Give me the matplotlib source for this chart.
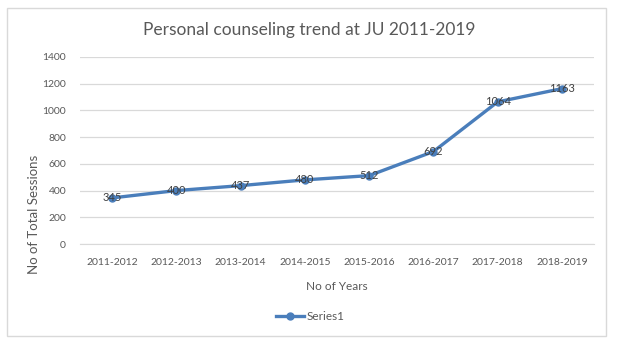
import matplotlib
matplotlib.use("Agg")
import matplotlib.pyplot as plt
from matplotlib.patches import Rectangle

years = ["2011-2012", "2012-2013", "2013-2014", "2014-2015",
         "2015-2016", "2016-2017", "2017-2018", "2018-2019"]
sessions = [345, 400, 437, 480, 512, 692, 1064, 1163]
y_ticks = [0, 200, 400, 600, 800, 1000, 1200, 1400]

plt.rcParams["font.family"] = ["Lato", "DejaVu Sans"]
text_col = "#595959"
line_col = "#4a7ebb"

fig = plt.figure(figsize=(6.18, 3.44), dpi=100)
fig.patch.set_facecolor("white")

# outer chart frame
fig.patches.append(Rectangle((7 / 618, 8 / 344), 599 / 618, 328 / 344,
                             transform=fig.transFigure, fill=False,
                             edgecolor="#d9d9d9", linewidth=1))

ax = fig.add_axes([80 / 618, 100 / 344, 514 / 618, 187 / 344])
x = list(range(len(years)))
ax.plot(x, sessions, color=line_col, linewidth=2.4, marker="o",
        markersize=5, label="Series1", zorder=3)
for xi, v in zip(x, sessions):
    ax.text(xi, v, str(v), ha="center", va="center", fontsize=8,
            color="#404040", zorder=4)

ax.set_xlim(-0.5, len(years) - 0.5)
ax.set_ylim(0, 1400)
ax.set_yticks(y_ticks)
ax.set_xticks(x)
ax.set_xticklabels(years)
ax.tick_params(axis="both", length=0, labelsize=7.5, colors=text_col)
ax.tick_params(axis="y", pad=10)
ax.tick_params(axis="x", pad=10)
ax.grid(axis="y", color="#d9d9d9", linewidth=0.9)
ax.set_axisbelow(True)
for s in ["top", "right", "left"]:
    ax.spines[s].set_visible(False)
ax.spines["bottom"].set_color("#d9d9d9")

ax.set_xlabel("No of Years", fontsize=8.5, color=text_col, labelpad=10)
ax.set_ylabel("No of Total Sessions", fontsize=9.5, color=text_col)
ax.yaxis.set_label_coords(-0.078, 0.16)

fig.text(0.5, 1 - 30 / 344, "Personal counseling trend at JU 2011-2019",
         ha="center", va="center", fontsize=12.5, color=text_col)

fig.legend(loc="center", bbox_to_anchor=(310 / 618, 1 - 317 / 344),
           frameon=False, fontsize=8.5, labelcolor=text_col,
           handlelength=2.4, handletextpad=0.2)

fig.savefig("out.png", dpi=100)
